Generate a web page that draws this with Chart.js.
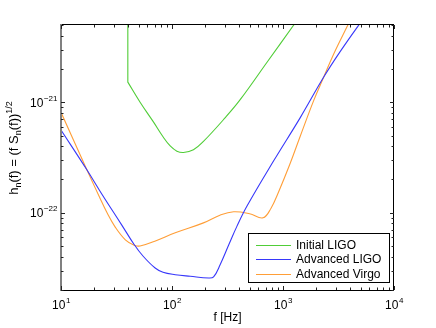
<!DOCTYPE html>
<html>
<head>
<meta charset="utf-8">
<script src="https://cdn.jsdelivr.net/npm/chart.js@4.4.0/dist/chart.umd.min.js"></script>
<style>
  body { margin: 0; background: #fff; }
  canvas { display: block; }
</style>
</head>
<body>
<canvas id="noise-chart" width="436" height="328"></canvas>
<script>
// noise curves (f in Hz, h in 1/sqrt(Hz))
let seriesNames = ["Initial LIGO", "Advanced LIGO", "Advanced Virgo"];
let seriesColors = ["rgb(80,205,55)", "rgb(55,55,250)", "rgb(255,158,55)"];

// the 40 Hz corner is listed twice so the spline keeps it sharp
let initialFreq = [40, 40, 40, 51.6, 68, 83.3, 96.3, 110.7, 127, 156, 192, 302, 413, 718, 1250, 1500];
let initialH = [6e-21, 1.52e-21, 1.52e-21, 1.0e-21, 6.64e-22, 4.85e-22, 4.02e-22, 3.61e-22, 3.51e-22, 3.71e-22, 4.42e-22, 7.26e-22, 1.06e-21, 2.3e-21, 5.0e-21, 6.5e-21];

let advLigoFreq = [10, 17.1, 23.3, 35.3, 45.6, 55, 70.5, 83, 107, 146, 214, 237, 272, 324, 385, 474, 824, 1435, 2328, 3295, 4820, 6000];
let advLigoH = [5.61e-22, 2.45e-22, 1.48e-22, 7.73e-23, 5.16e-23, 4.04e-23, 3.16e-23, 2.89e-23, 2.75e-23, 2.66e-23, 2.57e-23, 2.63e-23, 3.4e-23, 5.1e-23, 7.57e-23, 1.15e-22, 2.95e-22, 7.3e-22, 1.69e-21, 2.9e-21, 5.0e-21, 6.7e-21];

let advVirgoFreq = [10, 17.1, 22.2, 26, 30.7, 38, 45.6, 51.6, 70, 107, 192, 270, 359, 500, 661, 780, 914, 1150, 1435, 1893, 2328, 2870, 3840, 4500];
let advVirgoH = [8.11e-22, 2.45e-22, 1.39e-22, 9.98e-23, 7.45e-23, 5.69e-23, 5.09e-23, 5.0e-23, 5.53e-23, 6.58e-23, 8.1e-23, 9.5e-23, 1.02e-22, 9.8e-23, 9.0e-23, 1.1e-22, 1.55e-22, 2.73e-22, 4.98e-22, 1.04e-21, 1.69e-21, 2.75e-21, 5.0e-21, 6.9e-21];

let xDecades = [1, 2, 3, 4];      // 10^1 .. 10^4
let yDecades = [-22, -21];        // labelled y ticks
let xRange = [10, 10000];
let yRange = [2e-23, 5e-21];

const FONT = '"Liberation Sans", Arial, sans-serif';

function toPoints(fs, hs) {
  return fs.map((f, i) => ({ x: f, y: hs[i] }));
}

// draws "10" with a raised exponent
function powerLabel(ctx, exp, x, y, align) {
  let base = "10";
  let sup = String(exp).replace("-", "\u2212");
  ctx.font = "12px " + FONT;
  let wb = ctx.measureText(base).width;
  ctx.font = "8px " + FONT;
  let ws = ctx.measureText(sup).width;
  let left = align == "center" ? x - (wb + ws) / 2 : x - wb - ws;
  ctx.textAlign = "left";
  ctx.textBaseline = "alphabetic";
  ctx.font = "12px " + FONT;
  ctx.fillText(base, left, y);
  ctx.font = "8px " + FONT;
  ctx.fillText(sup, left + wb + 0.5, y - 6);
}

const frame = {
  id: "frame",
  afterDatasetsDraw(chart) {
    const ctx = chart.ctx;
    const a = chart.chartArea;
    const xs = chart.scales.x, ys = chart.scales.y;
    ctx.save();

    // box
    ctx.strokeStyle = "#000";
    ctx.lineWidth = 1;
    ctx.beginPath();
    ctx.moveTo(a.left, a.top - 0.5); ctx.lineTo(a.right, a.top - 0.5);
    ctx.moveTo(a.right - 0.5, a.top); ctx.lineTo(a.right - 0.5, a.bottom);
    ctx.moveTo(a.left, a.bottom + 0.5); ctx.lineTo(a.right, a.bottom + 0.5);
    ctx.stroke();
    ctx.fillStyle = "#808080";
    ctx.fillRect(a.left - 1, a.top - 1, 2, a.bottom - a.top + 2);

    // ticks
    ctx.strokeStyle = "#222";
    ctx.beginPath();
    for (let e = 1; e <= 4; e++) {
      for (let m = 1; m <= 9; m++) {
        let v = m * Math.pow(10, e);
        if (v < xRange[0] || v > xRange[1]) continue;
        let px = Math.round(xs.getPixelForValue(v)) + 0.5;
        let len = m == 1 ? 4 : 2.5;
        ctx.moveTo(px, a.bottom); ctx.lineTo(px, a.bottom - len);
        ctx.moveTo(px, a.top); ctx.lineTo(px, a.top + len);
      }
    }
    for (let e = -23; e <= -21; e++) {
      for (let m = 1; m <= 9; m++) {
        let v = m * Math.pow(10, e);
        if (v < yRange[0] * 0.999 || v > yRange[1] * 1.001) continue;
        let py = Math.round(ys.getPixelForValue(v)) + 0.5;
        let len = m == 1 ? 4 : 2.5;
        ctx.moveTo(a.left, py); ctx.lineTo(a.left + len, py);
        ctx.moveTo(a.right, py); ctx.lineTo(a.right - len, py);
      }
    }
    ctx.stroke();

    // tick labels
    ctx.fillStyle = "#000";
    xDecades.forEach(e => {
      powerLabel(ctx, e, xs.getPixelForValue(Math.pow(10, e)), a.bottom + 19, "center");
    });
    yDecades.forEach(e => {
      powerLabel(ctx, e, 57, ys.getPixelForValue(Math.pow(10, e)) + 4.5, "right");
    });

    // x title
    ctx.font = "12px " + FONT;
    ctx.textAlign = "center";
    ctx.fillText("f [Hz]", (a.left + a.right) / 2, 321);

    // y title with sub/superscripts
    let parts = [["h", 13, 0], ["n", 9, 3], ["(f) = (f S", 13, 0], ["n", 9, 3], ["(f))", 13, 0], ["1/2", 9, -6.5]];
    let total = 0;
    parts.forEach(p => { ctx.font = p[1] + "px " + FONT; total += ctx.measureText(p[0]).width; });
    ctx.save();
    ctx.translate(18, 148);
    ctx.rotate(-Math.PI / 2);
    ctx.textAlign = "left";
    let cx = -total / 2;
    parts.forEach(p => {
      ctx.font = p[1] + "px " + FONT;
      ctx.fillText(p[0], cx, p[2]);
      cx += ctx.measureText(p[0]).width;
    });
    ctx.restore();

    // legend
    ctx.fillStyle = "#fff";
    ctx.fillRect(249, 234, 140, 48);
    ctx.strokeStyle = "#000";
    ctx.strokeRect(248.5, 233.5, 141, 49);
    ctx.font = "12px " + FONT;
    ctx.textAlign = "left";
    ctx.textBaseline = "middle";
    ctx.lineWidth = 1.1;
    let rows = [245.5, 259.5, 274.5];
    seriesNames.forEach((name, i) => {
      ctx.strokeStyle = seriesColors[i];
      ctx.beginPath();
      ctx.moveTo(256, rows[i]); ctx.lineTo(291, rows[i]);
      ctx.stroke();
      ctx.fillStyle = "#000";
      ctx.fillText(name, 296, rows[i] + 0.5);
    });
    ctx.restore();
  }
};

let ctx = document.getElementById("noise-chart").getContext("2d");
let noiseChart = new Chart(ctx, {
  type: "scatter",
  data: {
    datasets: [
      { label: seriesNames[0], data: toPoints(initialFreq, initialH), borderColor: seriesColors[0] },
      { label: seriesNames[1], data: toPoints(advLigoFreq, advLigoH), borderColor: seriesColors[1] },
      { label: seriesNames[2], data: toPoints(advVirgoFreq, advVirgoH), borderColor: seriesColors[2] }
    ]
  },
  options: {
    responsive: false,
    animation: false,
    devicePixelRatio: 1,
    showLine: true,
    layout: { padding: { left: 61, right: 42, top: 25, bottom: 38 } },
    elements: {
      point: { radius: 0, hoverRadius: 0 },
      line: { borderWidth: 1.1, tension: 0.4, fill: false }
    },
    scales: {
      x: { type: "logarithmic", min: xRange[0], max: xRange[1], display: false },
      y: { type: "logarithmic", min: yRange[0], max: yRange[1], display: false }
    },
    plugins: { legend: { display: false }, tooltip: { enabled: false } }
  },
  plugins: [frame]
});
</script>
</body>
</html>
